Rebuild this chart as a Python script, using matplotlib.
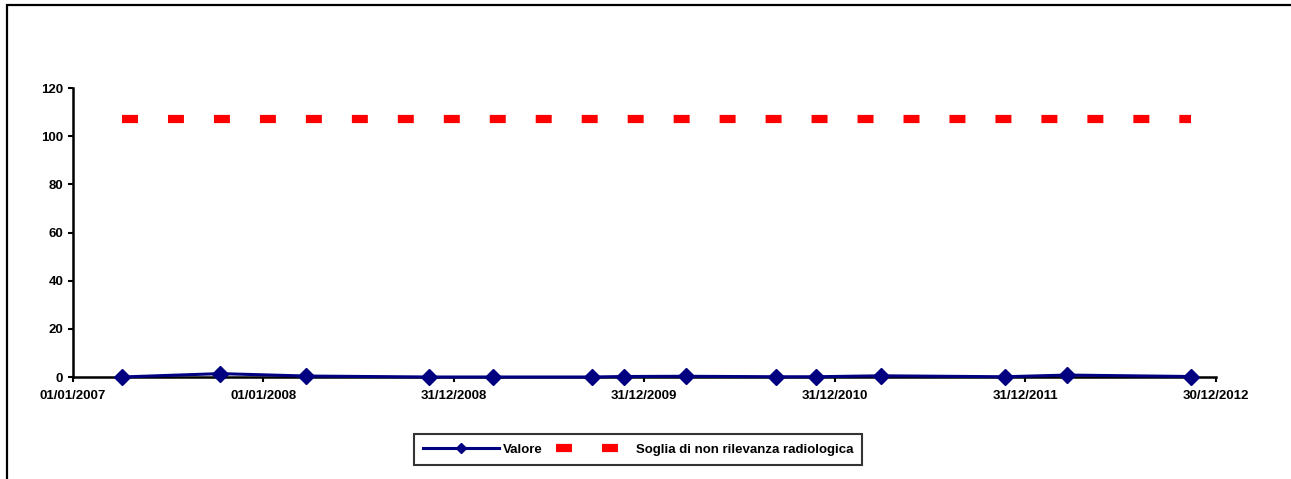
import datetime as dt
import matplotlib
matplotlib.use("Agg")
import matplotlib.dates as mdates
from matplotlib import pyplot as plt
from matplotlib.patches import Rectangle

plt.rcParams['font.family'] = ['Liberation Sans', 'DejaVu Sans']
plt.rcParams['font.weight'] = 'bold'
plt.rcParams['font.size'] = 9.5

# sampling dates and measured values
dates = [
    "2007-04-05", "2007-10-10", "2008-03-24", "2008-11-13", "2009-03-16",
    "2009-09-22", "2009-11-23", "2010-03-21", "2010-09-10", "2010-11-24",
    "2011-03-29", "2011-11-21", "2012-03-20", "2012-11-13",
]
valore = [0.0, 1.4, 0.4, 0.0, 0.0, 0.0, 0.2, 0.3, 0.1, 0.1, 0.5, 0.1, 0.8, 0.2]
soglia = [107] * len(dates)

tick_dates = ["2007-01-01", "2008-01-01", "2008-12-31", "2009-12-31",
              "2010-12-31", "2011-12-31", "2012-12-30"]
tick_labels = ["01/01/2007", "01/01/2008", "31/12/2008", "31/12/2009",
               "31/12/2010", "31/12/2011", "30/12/2012"]
y_ticks = [0, 20, 40, 60, 80, 100, 120]


def to_num(s):
    return mdates.date2num(dt.datetime.strptime(s, "%Y-%m-%d"))


x = [to_num(d) for d in dates]
xt = [to_num(d) for d in tick_dates]

fig = plt.figure(figsize=(12.91, 4.79), dpi=100)
ax = fig.add_axes([72.5 / 1291, 102 / 479, 1143.5 / 1291, 289 / 479])

# threshold: red blocks, 16 px on / 30 px off at 8 px width
ax.plot(x, soglia, color='#ff0000', lw=5.9, dashes=(1.95, 3.66),
        solid_capstyle='butt', dash_capstyle='butt', label='Soglia di non rilevanza radiologica')
ax.plot(x, valore, color='#000080', lw=2.2, marker='D', ms=8.2,
        markerfacecolor='#000080', markeredgecolor='#000080', label='Valore', zorder=3,
        clip_on=False)

ax.set_xlim(xt[0], xt[-1])
ax.set_ylim(0, 120)
ax.set_xticks(xt)
ax.set_xticklabels(tick_labels)
ax.set_yticks(y_ticks)
ax.tick_params(axis='both', direction='out', length=3.6, width=1.5, colors='black')
ax.tick_params(axis='y', pad=3)
ax.tick_params(axis='x', pad=6)

for side in ['top', 'right']:
    ax.spines[side].set_visible(False)
for side in ['left', 'bottom']:
    ax.spines[side].set_linewidth(1.8)
    ax.spines[side].set_color('black')

handles, labels = ax.get_legend_handles_labels()
leg = fig.legend([handles[1], handles[0]], [labels[1], labels[0]],
                 loc='center', bbox_to_anchor=(638 / 1291, (479 - 449.5) / 479),
                 ncol=2, frameon=True, fancybox=False, shadow=False,
                 handlelength=5.76, handletextpad=0.3, columnspacing=1.0,
                 borderpad=0.68, borderaxespad=0, markerscale=0.6)
leg.get_frame().set_edgecolor('black')
leg.get_frame().set_linewidth(1.5)

# outer frame, open on the right and bottom
fig.patches.append(Rectangle((7 / 1291, -0.2), 1.2, 1.2 - 5 / 479,
                             transform=fig.transFigure, fill=False,
                             edgecolor='black', lw=1.6, clip_on=False))

fig.savefig("out.png", dpi=100)
